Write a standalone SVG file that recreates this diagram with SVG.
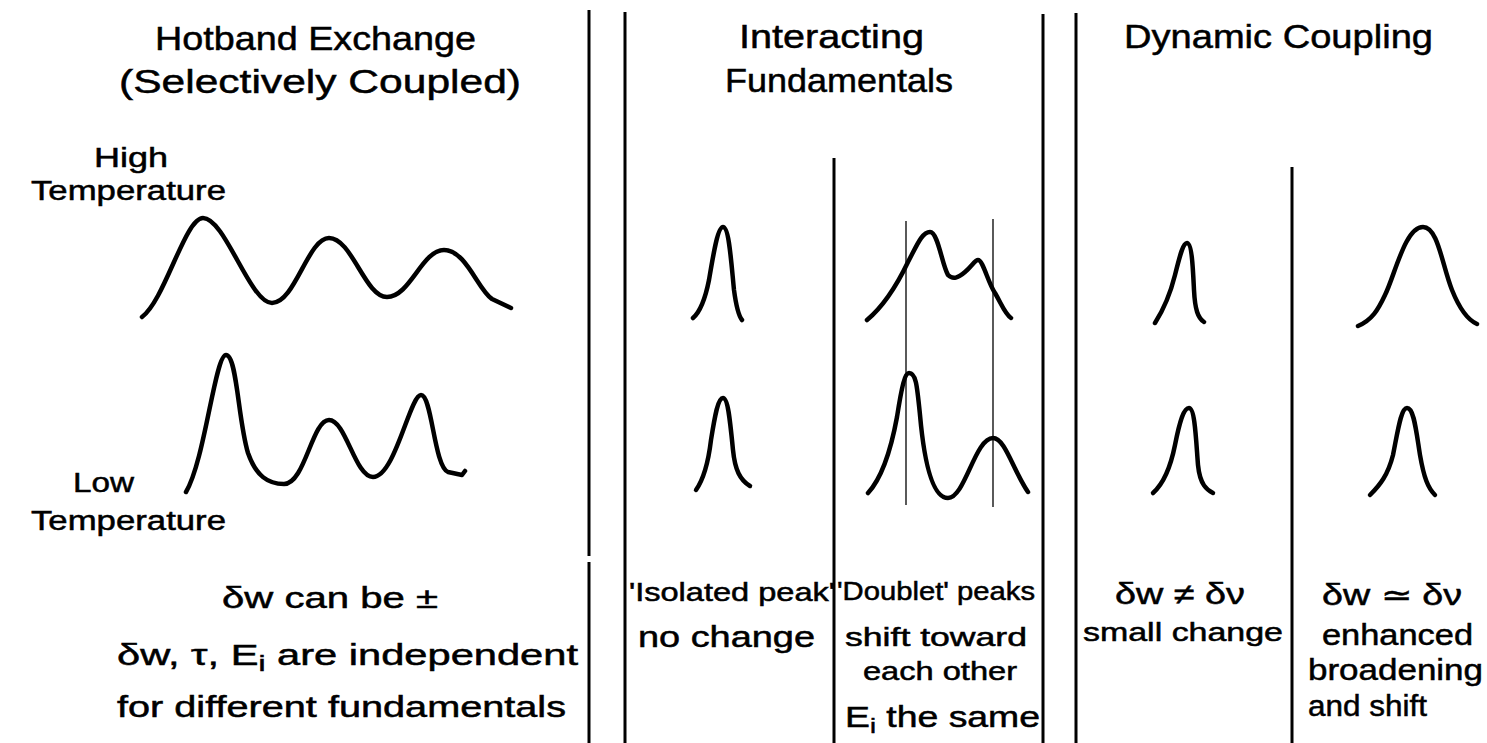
<svg xmlns="http://www.w3.org/2000/svg" width="1487" height="743" viewBox="0 0 1487 743">
<style>
  text { font-family: "Liberation Sans", Arial, sans-serif; fill: #000; stroke: #000; stroke-width: 0.5; }
  .hd { font-size: 34px; }
  .lb { font-size: 27px; }
  .tx { font-size: 29px; }
  .sm { font-size: 25px; }
  .div { stroke: #000; stroke-width: 3; fill: none; }
  .thin { stroke: #000; stroke-width: 1.3; fill: none; }
  .crv { stroke: #000; stroke-width: 4.5; fill: none; stroke-linecap: round; stroke-linejoin: round; }
</style>
<rect width="1487" height="743" fill="#fff"/>

<g id="dividers">
  <line class="div" x1="589" y1="10" x2="589" y2="556"/>
  <line class="div" x1="589" y1="562" x2="589" y2="743"/>
  <line class="div" x1="625" y1="12" x2="625" y2="743"/>
  <line class="div" x1="834" y1="158" x2="834" y2="743"/>
  <line class="div" x1="1043" y1="14" x2="1043" y2="743"/>
  <line class="div" x1="1076" y1="13" x2="1076" y2="743"/>
  <line class="div" x1="1292" y1="167" x2="1292" y2="743"/>
</g>

<g id="hotband">
  <text class="hd" x="155" y="50" textLength="321" lengthAdjust="spacingAndGlyphs">Hotband Exchange</text>
  <text class="hd" x="119" y="93" textLength="402" lengthAdjust="spacingAndGlyphs" font-size="31">(Selectively Coupled)</text>
  <text class="lb" x="94" y="167" textLength="74" lengthAdjust="spacingAndGlyphs">High</text>
  <text class="lb" x="31" y="200" textLength="195" lengthAdjust="spacingAndGlyphs">Temperature</text>
  <path class="crv" d="M142,317 C165,300 185,218 203,218 C225,218 250,303 272,303 C295,303 308,238 329,238 C352,238 365,297 387,297 C410,297 422,250 444,250 C466,250 478,290 492,299 L511,308"/>
  <text class="lb" x="73" y="492" textLength="61" lengthAdjust="spacingAndGlyphs">Low</text>
  <text class="lb" x="31" y="530" textLength="195" lengthAdjust="spacingAndGlyphs">Temperature</text>
  <path class="crv" d="M186,492 C205,460 215,355 226,355 C237,355 238,420 248,453 C256,476 268,484 284,484 C305,484 312,420 329,420 C346,420 355,477 373,477 C395,477 410,395 421,395 C432,395 434,466 448,472 L462,475 L465,471"/>
  <text class="tx" x="222" y="608" textLength="216" lengthAdjust="spacingAndGlyphs">δw can be ±</text>
  <text class="tx" x="117" y="665" textLength="461" lengthAdjust="spacingAndGlyphs">δw, τ, E<tspan dy="6" font-size="22">i</tspan><tspan dy="-6"> are independent</tspan></text>
  <text class="tx" x="117" y="717" textLength="449" lengthAdjust="spacingAndGlyphs">for different fundamentals</text>
</g>

<g id="interacting">
  <text class="hd" x="739" y="48" textLength="185" lengthAdjust="spacingAndGlyphs">Interacting</text>
  <text class="hd" x="725" y="92" textLength="228" lengthAdjust="spacingAndGlyphs">Fundamentals</text>
</g>

<g id="isolated">
  <path class="crv" d="M693,318 C700,312 705,300 709,280 C714,250 718,227 723,227 C729,227 731,260 734,290 C736,305 738,315 742,320"/>
  <path class="crv" d="M696,490 C703,480 708,465 711,440 C715,415 718,398 723,398 C728,398 730,420 733,450 C735,470 740,480 750,486"/>
  <text class="sm" x="629" y="601" textLength="206" lengthAdjust="spacingAndGlyphs">'Isolated peak'</text>
  <text class="tx" x="638" y="647" textLength="177" lengthAdjust="spacingAndGlyphs" font-size="27">no change</text>
</g>

<g id="doublet">
  <line class="thin" x1="906" y1="221" x2="906" y2="505"/>
  <line class="thin" x1="993" y1="219" x2="993" y2="507"/>
  <path class="crv" d="M867,320 C885,305 897,285 908,262 C917,245 922,232 930,232 C938,232 942,265 948,275 C953,280 958,278 965,272 C972,266 975,260 978,260 C983,260 988,283 995,293 C1002,305 1005,314 1011,318"/>
  <path class="crv" d="M868,493 C880,480 890,455 897,417 C902,385 905,373 909,373 C916,373 917,385 920,415 C924,460 932,498 948,498 C965,498 975,438 993,438 C1005,438 1013,470 1028,492"/>
  <text class="sm" x="837" y="600" textLength="198" lengthAdjust="spacingAndGlyphs">'Doublet' peaks</text>
  <text class="sm" x="845" y="646" textLength="182" lengthAdjust="spacingAndGlyphs" font-size="26">shift toward</text>
  <text class="sm" x="863" y="680" textLength="154" lengthAdjust="spacingAndGlyphs" font-size="26">each other</text>
  <text class="tx" x="845" y="727" textLength="195" lengthAdjust="spacingAndGlyphs" font-size="28">E<tspan dy="6" font-size="21">i</tspan><tspan dy="-6"> the same</tspan></text>
</g>

<g id="dynamic">
  <text class="hd" x="1124" y="48" textLength="309" lengthAdjust="spacingAndGlyphs">Dynamic Coupling</text>
</g>

<g id="small-change">
  <path class="crv" d="M1155,323 C1162,312 1170,295 1175,275 C1180,255 1183,243 1187,243 C1192,243 1193,270 1194,290 C1195,310 1198,318 1204,322"/>
  <path class="crv" d="M1153,493 C1162,485 1170,470 1175,445 C1180,420 1184,408 1189,408 C1195,408 1196,440 1198,465 C1200,485 1207,490 1213,493"/>
  <text class="tx" x="1115" y="604" textLength="130" lengthAdjust="spacingAndGlyphs" font-size="28">δw ≠ δν</text>
  <text class="sm" x="1083" y="641" textLength="200" lengthAdjust="spacingAndGlyphs" font-size="26">small change</text>
</g>

<g id="enhanced">
  <path class="crv" d="M1358,326 C1372,320 1378,310 1385,295 C1395,275 1405,227 1423,227 C1438,227 1442,265 1452,290 C1460,310 1468,320 1477,324"/>
  <path class="crv" d="M1370,495 C1380,485 1388,475 1393,455 C1398,430 1401,408 1407,408 C1414,408 1416,430 1420,455 C1424,478 1428,488 1435,495"/>
  <text class="tx" x="1322" y="605" textLength="140" lengthAdjust="spacingAndGlyphs" font-size="28">δw ≃ δν</text>
  <text class="tx" x="1322" y="645" textLength="151" lengthAdjust="spacingAndGlyphs" font-size="28">enhanced</text>
  <text class="tx" x="1308" y="680" textLength="175" lengthAdjust="spacingAndGlyphs" font-size="28">broadening</text>
  <text class="tx" x="1308" y="716" textLength="119" lengthAdjust="spacingAndGlyphs" font-size="28">and shift</text>
</g>
</svg>
